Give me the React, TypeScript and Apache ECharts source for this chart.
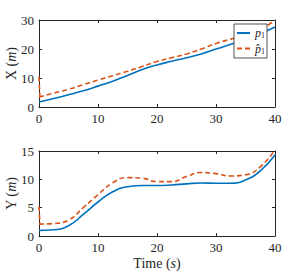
import React, { useEffect, useRef } from "react";
import * as echarts from "echarts";

const time = [0, 2.5, 5, 7.5, 10, 12.5, 15, 17.5, 20, 22.5, 25, 27.5, 30, 32.5, 35, 37.5, 40];
const xTrue = [1.7, 2.9, 4.2, 5.6, 7.2, 8.9, 10.9, 12.9, 14.5, 15.8, 17.0, 18.3, 20.0, 21.6, 23.3, 25.3, 27.6];
const xEst = [3.4, 4.8, 6.1, 7.7, 9.3, 10.8, 12.3, 14.0, 15.7, 17.0, 18.3, 20.0, 21.9, 23.4, 24.8, 26.8, 29.8];
const xEstStart = 10.5;
const yTrue = [1.0, 1.1, 1.8, 3.8, 6.0, 7.8, 8.7, 8.9, 8.9, 9.0, 9.2, 9.35, 9.3, 9.3, 9.9, 11.5, 14.3];
const yEst = [2.1, 2.2, 2.8, 5.0, 7.3, 9.4, 10.3, 10.2, 9.6, 9.6, 10.5, 11.2, 11.0, 10.6, 10.8, 12.2, 15.2];
const yEstStart = 5.2;

const BLUE = "#0072BD";
const RED = "#D95319";
const INK = "#262626";
const FONT = "Liberation Serif";

function pairs(vals: number[]) {
  return time.map((t, i) => [t, vals[i]]);
}

export default function App() {
  const ref = useRef<HTMLDivElement>(null);
  useEffect(() => {
    const chart = echarts.init(ref.current!, null, { renderer: "svg" });
    const lbl = { color: INK, fontFamily: FONT, fontSize: 13 };
    const nameStyle = {
      ...lbl,
      fontSize: 14,
      rich: { i: { fontStyle: "italic", fontFamily: FONT, fontSize: 14, color: INK } },
    };
    const common = {
      type: "value" as const,
      axisLine: { show: true, onZero: false, lineStyle: { color: INK, width: 1 } },
      axisTick: { show: true, inside: true, length: 3, lineStyle: { color: INK } },
      splitLine: { show: false },
      nameMoveOverlap: false,
    };
    const xBase = (gi: number, name: string) => ({
      ...common,
      gridIndex: gi,
      min: 0,
      max: 40,
      interval: 10,
      position: "bottom" as const,
      axisLabel: { margin: 5, ...lbl },
      name,
      nameLocation: "middle" as const,
      nameGap: 20,
      nameTextStyle: nameStyle,
    });
    const xTop = (gi: number) => ({
      ...common,
      gridIndex: gi,
      min: 0,
      max: 40,
      interval: 10,
      position: "top" as const,
      axisLabel: { show: false },
    });
    const yBase = (gi: number, max: number, interval: number, name: string) => ({
      ...common,
      gridIndex: gi,
      min: 0,
      max,
      interval,
      position: "left" as const,
      axisLabel: { margin: 5, ...lbl },
      name,
      nameLocation: "middle" as const,
      nameGap: 21,
      nameRotate: 90,
      nameTextStyle: nameStyle,
    });
    const yRight = (gi: number, max: number, interval: number) => ({
      ...common,
      gridIndex: gi,
      min: 0,
      max,
      interval,
      position: "right" as const,
      axisLabel: { show: false },
    });
    const line = (name: string, xi: number, yi: number, data: number[][], color: string, dashed: boolean, smooth: number | boolean) => ({
      type: "line" as const,
      name,
      xAxisIndex: xi,
      yAxisIndex: yi,
      data,
      showSymbol: false,
      symbol: "circle",
      symbolSize: 0,
      smooth,
      lineStyle: { color, width: 1.6, type: dashed ? ([5, 3] as any) : "solid" },
      itemStyle: { color },
      z: dashed ? 3 : 2,
    });
    chart.setOption({
      animation: false,
      backgroundColor: "#ffffff",
      grid: [
        { left: 39, right: 30, top: 20, height: 87, outerBoundsMode: "none", containLabel: false },
        { left: 39, right: 30, top: 151, height: 85, outerBoundsMode: "none", containLabel: false },
      ],
      xAxis: [xBase(0, ""), xTop(0), xBase(1, "Time ({i|s})"), xTop(1)],
      yAxis: [yBase(0, 30, 10, "X ({i|m})"), yRight(0, 30, 10), yBase(1, 15, 5, "Y ({i|m})"), yRight(1, 15, 5)],
      legend: {
        show: true,
        data: ["p1", "p1hat"],
        orient: "vertical",
        left: 234,
        top: 24,
        padding: [3, 2, 3, 2],
        itemGap: 3,
        itemWidth: 13,
        itemHeight: 10,
        itemTextGap: 3,
        borderColor: INK,
        borderWidth: 0.8,
        borderRadius: 0,
        backgroundColor: "#ffffff",
        itemStyle: { opacity: 0 },
        formatter: (n: string) => (n === "p1" ? "{i|p}{s|1}" : "{i|p\u0302}{s|1}"),
        textStyle: {
          fontFamily: FONT,
          color: INK,
          rich: {
            i: { fontStyle: "italic", fontFamily: FONT, fontSize: 12, color: INK },
            s: { fontFamily: FONT, fontSize: 8, color: INK, verticalAlign: "bottom", padding: [5, 0, 0, 0] },
          },
        },
      },
      series: [
        line("p1", 0, 0, pairs(xTrue), BLUE, false, 0.5),
        line("p1hat", 0, 0, pairs(xEst), RED, true, 0.5),
        line("p1hat", 0, 0, [[0, xEstStart], [0.15, xEst[0]]], RED, true, false),
        line("p1", 2, 2, pairs(yTrue), BLUE, false, 0.5),
        line("p1hat", 2, 2, pairs(yEst), RED, true, 0.5),
        line("p1hat", 2, 2, [[0, yEstStart], [0.15, yEst[0]]], RED, true, false),
      ],
    });
    return () => chart.dispose();
  }, []);
  return <div ref={ref} style={{ width: 305, height: 271, position: "absolute", left: 0, top: 0 }} />;
}
